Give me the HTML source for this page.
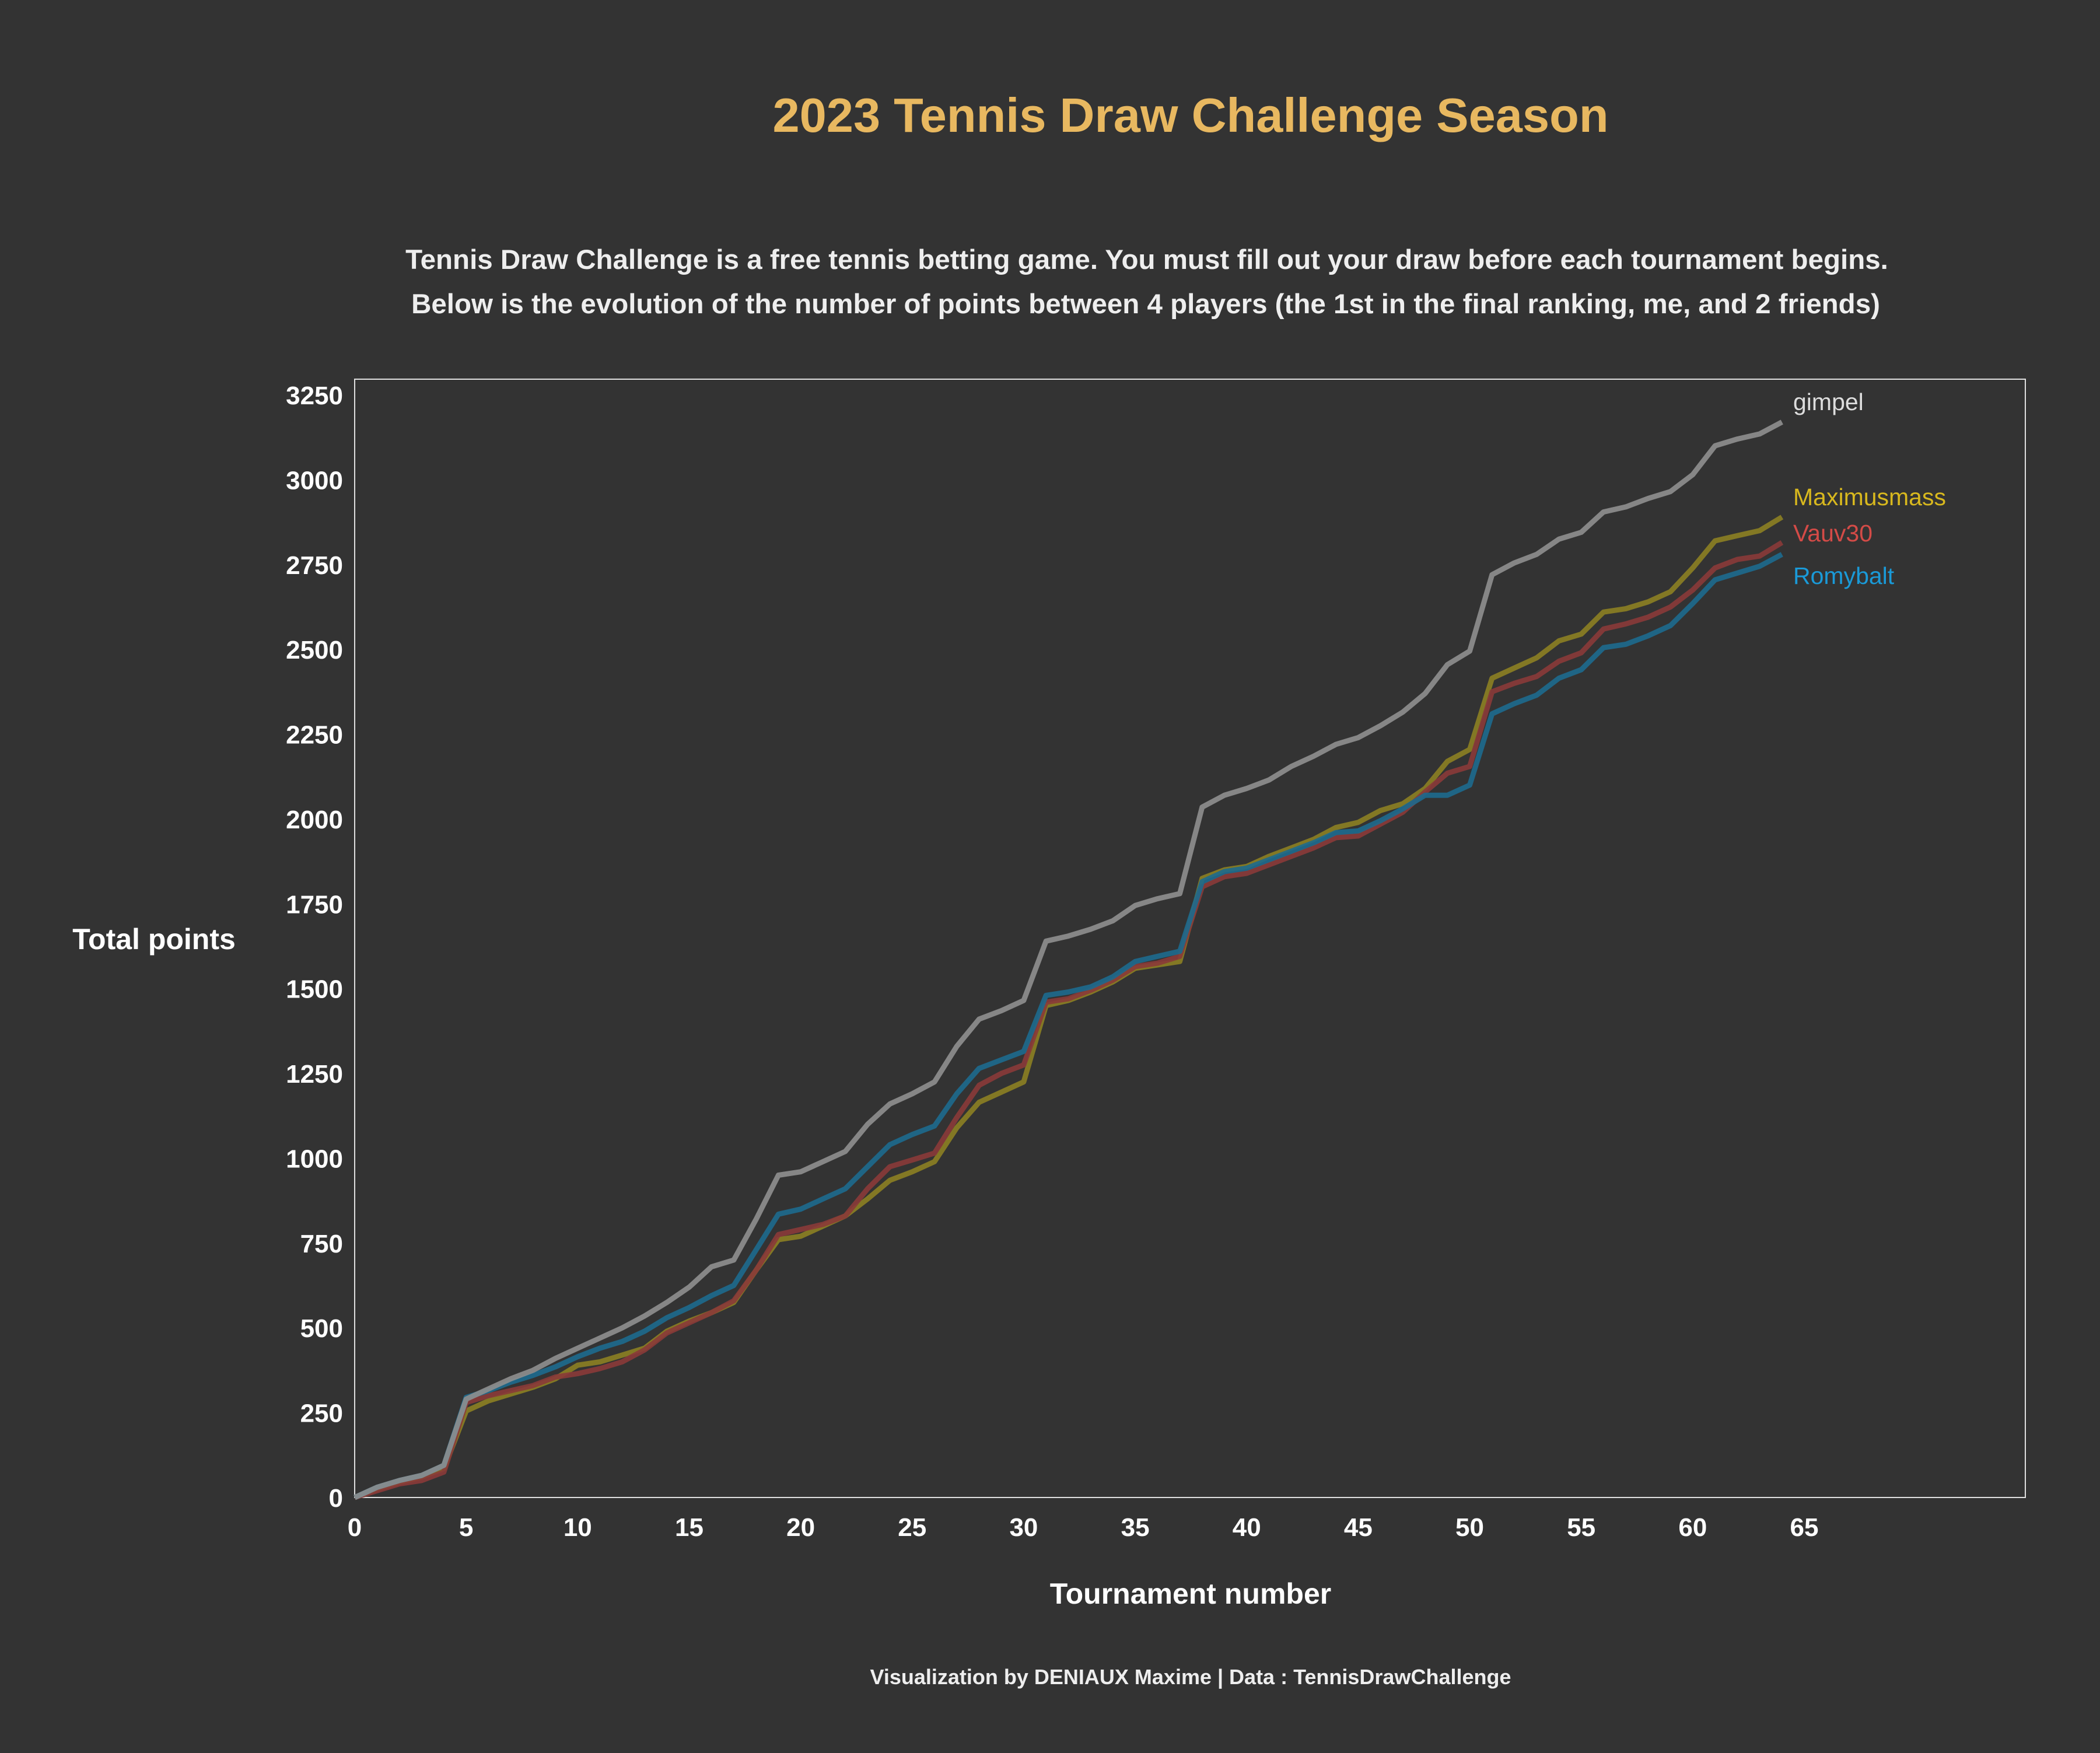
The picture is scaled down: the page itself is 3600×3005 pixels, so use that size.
<!DOCTYPE html>
<html><head><meta charset="utf-8">
<style>
html,body{margin:0;padding:0;background:#333333;}
body{width:3600px;height:3000px;overflow:hidden;font-family:"Liberation Sans",sans-serif;}
</style></head>
<body>
<svg id="chart" width="3600" height="3000" xmlns="http://www.w3.org/2000/svg" font-family="Liberation Sans, sans-serif">
<rect width="3600" height="3000" fill="#333333"/>
<text x="2041" y="226" text-anchor="middle" font-size="83" font-weight="bold" fill="#e8b860">2023 Tennis Draw Challenge Season</text>
<text x="1966" y="461" text-anchor="middle" font-size="47.5" font-weight="bold" fill="#eeeeee">Tennis Draw Challenge is a free tennis betting game. You must fill out your draw before each tournament begins.</text>
<text x="1964" y="537" text-anchor="middle" font-size="47.5" font-weight="bold" fill="#eeeeee">Below is the evolution of the number of points between 4 players (the 1st in the final ranking, me, and 2 friends)</text>
<text x="264" y="1627" text-anchor="middle" font-size="50" font-weight="bold" fill="#ffffff">Total points</text>
<text x="2041" y="2749" text-anchor="middle" font-size="50" font-weight="bold" fill="#ffffff">Tournament number</text>
<text x="2041" y="2887" text-anchor="middle" font-size="36" font-weight="bold" fill="#eeeeee">Visualization by DENIAUX Maxime | Data : TennisDrawChallenge</text>
<rect x="608" y="650" width="2864" height="1917" fill="none" stroke="#e0e0e0" stroke-width="2"/>
<g id="ticks"></g>
<g id="lines"></g>
<g id="labels"></g>
</svg>
<script>
const xTicks = [0,5,10,15,20,25,30,35,40,45,50,55,60,65];
const yTicks = [0,250,500,750,1000,1250,1500,1750,2000,2250,2500,2750,3000,3250];
const gimpel = [0,30,50,65,95,290,320,350,375,410,440,470,500,535,575,620,680,700,820,950,960,990,1020,1100,1160,1190,1225,1330,1410,1435,1465,1640,1655,1675,1700,1745,1765,1780,2035,2070,2090,2115,2155,2185,2220,2240,2275,2315,2370,2455,2495,2720,2755,2780,2825,2845,2905,2920,2945,2965,3015,3100,3120,3135,3170];
const maximusmass = [0,25,45,60,85,255,285,305,325,350,390,400,420,440,490,520,545,575,670,760,770,800,830,880,935,960,990,1090,1165,1195,1225,1450,1465,1490,1520,1560,1570,1580,1825,1850,1860,1890,1915,1940,1975,1990,2025,2045,2090,2170,2205,2415,2445,2475,2525,2545,2610,2620,2640,2670,2740,2820,2835,2850,2890];
const vauv30 = [0,20,40,50,75,280,300,315,330,355,365,380,400,435,485,515,545,580,670,775,790,805,830,910,975,995,1015,1120,1215,1250,1275,1460,1470,1495,1525,1565,1575,1595,1800,1830,1840,1865,1890,1915,1945,1950,1985,2020,2080,2135,2155,2375,2400,2420,2465,2490,2560,2575,2595,2625,2675,2740,2765,2775,2815];
const romybalt = [0,30,50,65,95,295,315,340,360,385,415,440,460,490,530,560,595,625,730,835,850,880,910,975,1040,1070,1095,1190,1265,1290,1315,1480,1490,1505,1535,1580,1595,1610,1815,1845,1855,1880,1905,1930,1960,1965,1995,2030,2070,2070,2100,2310,2340,2365,2415,2440,2505,2515,2540,2570,2635,2705,2725,2745,2780];

const NS='http://www.w3.org/2000/svg';
const X0=608, XU=(3093-608)/65, Y0=2567, YU=(2567-677)/3250;
function xs(v){return X0+v*XU;}
function ys(v){return Y0-v*YU;}
const ticks=document.getElementById('ticks');
xTicks.forEach(t=>{
  const tx=document.createElementNS(NS,'text');
  
  
  tx.setAttribute('x',xs(t));tx.setAttribute('y',2633);
  tx.setAttribute('text-anchor','middle');tx.setAttribute('font-size','44');
  tx.setAttribute('font-weight','bold');tx.setAttribute('fill','#ffffff');
  tx.textContent=t;ticks.appendChild(tx);
});
yTicks.forEach(t=>{
  const tx=document.createElementNS(NS,'text');
  
  
  tx.setAttribute('x',588);tx.setAttribute('y',ys(t)+16);
  tx.setAttribute('text-anchor','end');tx.setAttribute('font-size','44');
  tx.setAttribute('font-weight','bold');tx.setAttribute('fill','#ffffff');
  tx.textContent=t;ticks.appendChild(tx);
});
const series=[
  {name:'gimpel',data:gimpel,color:'#8f8f8f',label:'#dddddd'},
  {name:'Maximusmass',data:maximusmass,color:'#8c7f22',label:'#d8b81e'},
  {name:'Vauv30',data:vauv30,color:'#8a3a38',label:'#d44b47'},
  {name:'Romybalt',data:romybalt,color:'#1d6a8e',label:'#1a9ad8'}
];
const lines=document.getElementById('lines');
const order=[1,2,3,0];
order.forEach(i=>{
  const s=series[i];
  const p=document.createElementNS(NS,'path');
  
  
  p.setAttribute('d',s.data.map((v,k)=>(k?'L':'M')+xs(k).toFixed(1)+','+ys(v).toFixed(1)).join(''));
  p.setAttribute('fill','none');p.setAttribute('stroke',s.color);
  p.setAttribute('stroke-width','9');p.setAttribute('stroke-linejoin','round');
  p.setAttribute('stroke-opacity','0.9');
  lines.appendChild(p);
});
const labelY=[689,852,914,987];
const labels=document.getElementById('labels');
series.forEach((s,i)=>{
  const tx=document.createElementNS(NS,'text');
  
  
  tx.setAttribute('x',3074);tx.setAttribute('y',labelY[i]+14);
  tx.setAttribute('font-size','41');tx.setAttribute('fill',s.label);
  tx.textContent=s.name;labels.appendChild(tx);
});
</script>
</body></html>
